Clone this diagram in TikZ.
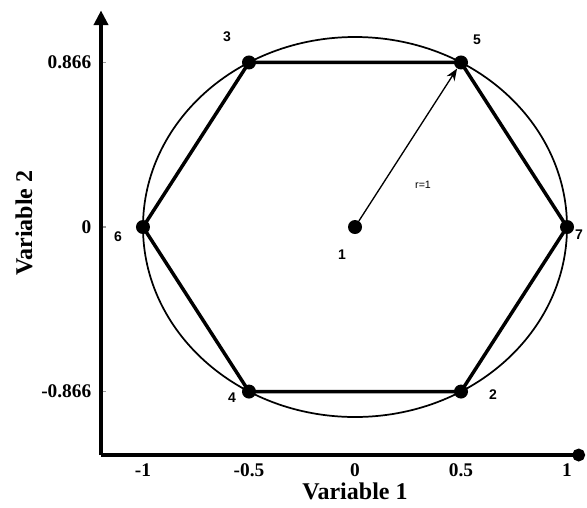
\documentclass[tikz,border=0pt]{standalone}
\usepackage{fontspec}
\setmainfont{Liberation Serif}
\setsansfont{Liberation Sans}
\usepackage{xcolor}
\definecolor{cMain}{HTML}{000000}
\definecolor{cTick}{HTML}{9A9A9A}
\usepackage{tikz}
\usetikzlibrary{positioning,arrows.meta}
\tikzset{
  axis-line/.style={line width=3.2pt,draw=cMain},
  axis-arrow/.style={axis-line,-{Triangle[length=11pt,width=10.5pt]}},
  axis-dot/.style={axis-line,-{Circle[length=9.5pt]}},
  axis-tick/.style={line width=0.8pt,draw=cTick},
  hex-edge/.style={line width=2.6pt,draw=cMain},
  unit-circle/.style={line width=1.3pt,draw=cMain},
  radius-arrow/.style={-{Stealth[length=9pt,width=7pt]},line width=1pt,draw=cMain},
  node-dot/.style={circle,fill=cMain,inner sep=0pt,minimum size=10.5pt},
  tick-label/.style={font=\fontsize{14.5}{16}\selectfont\bfseries},
  axis-title/.style={font=\fontsize{18}{20}\selectfont\bfseries},
  point-label/.style={font=\sffamily\bfseries\fontsize{10.5}{12}\selectfont},
  radius-label/.style={font=\sffamily\fontsize{8}{10}\selectfont},
}
\begin{document}
\begin{tikzpicture}[x=159pt,y=142.5pt]
  \useasboundingbox (-1.6745,-1.4737) rectangle (1.0943,1.1947);
  % axes
  \coordinate (axis-o) at (-1.198,-1.2);
  \coordinate (axis-y) at (-1.198,1.14);
  \coordinate (axis-x) at (1.085,-1.2);
  \draw[axis-arrow] (axis-o) -- (axis-y);
  \draw[axis-dot] (axis-o) -- (axis-x);
  \foreach \yv/\ytxt in {0.866/0.866,0/0,-0.866/-0.866}{
    \draw[axis-tick] (-1.19,\yv) -- (-1.175,\yv);
    \node[tick-label,anchor=east] (ytick-\ytxt) at (-1.222,\yv) {\ytxt};
  }
  \foreach \xv in {-1,-0.5,0,0.5,1}
    \node[tick-label] (xtick-\xv) at (\xv,-1.279) {\xv};
  \node[axis-title] (title-x) at (0,-1.392) {Variable 1};
  \node[axis-title,rotate=90] (title-y) at (-1.561,0.02) {Variable 2};
  % circle of radius 1
  \draw[unit-circle] (0,0) ellipse [x radius=1,y radius=1];
  % design points
  \node[node-dot] (p1) at (0,0) {};
  \node[node-dot] (p2) at (0.5,-0.866) {};
  \node[node-dot] (p3) at (-0.5,0.866) {};
  \node[node-dot] (p4) at (-0.5,-0.866) {};
  \node[node-dot] (p5) at (0.5,0.866) {};
  \node[node-dot] (p6) at (-1,0) {};
  \node[node-dot] (p7) at (1,0) {};
  \draw[hex-edge] (p3.center) -- (p5.center) -- (p7.center) -- (p2.center)
    -- (p4.center) -- (p6.center) -- cycle;
  \draw[radius-arrow] (p1) -- (p5);
  \node[radius-label] (r-label) at (0.321,0.221) {r=1};
  % point numbers
  \node[point-label] (lab-1) at (-0.061,-0.147) {1};
  \node[point-label] (lab-2) at (0.651,-0.884) {2};
  \node[point-label] (lab-3) at (-0.604,1.0) {3};
  \node[point-label] (lab-4) at (-0.58,-0.9) {4};
  \node[point-label] (lab-5) at (0.575,0.984) {5};
  \node[point-label] (lab-6) at (-1.118,-0.053) {6};
  \node[point-label] (lab-7) at (1.057,-0.042) {7};
\end{tikzpicture}
\end{document}
